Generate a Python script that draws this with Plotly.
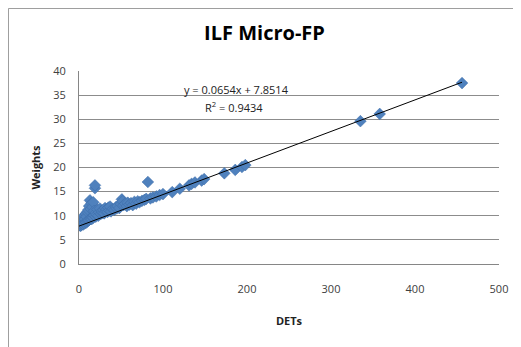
import plotly.graph_objects as go

# Estimated data (DETs vs Weights)
dets = [
    1, 2, 2, 3, 3, 4, 4, 5, 5, 6, 6, 7, 7, 8, 8, 9, 9, 10, 10, 11,
    11, 12, 12, 13, 13, 14, 14, 15, 15, 16, 16, 17, 17, 18, 18, 19, 19, 20, 20, 21,
    22, 23, 24, 25, 26, 27, 28, 29, 30, 31, 32, 33, 34, 35, 36, 37, 38, 40, 42, 44,
    45, 46, 48, 50, 51, 52, 53, 55, 57, 58, 60, 62, 64, 66, 68, 70, 72, 75, 78, 80,
    82, 85, 88, 92, 96, 100, 111, 120, 131, 134, 138, 146, 149, 173, 186, 194, 198,
    335, 358, 456,
]
weights = [
    8.0, 7.9, 8.4, 8.1, 8.8, 8.3, 9.2, 8.2, 9.6, 8.5, 10.0, 8.4, 9.3, 8.7, 10.4, 8.6, 9.8, 8.9, 10.8, 9.0,
    11.2, 9.1, 12.0, 9.4, 13.2, 9.5, 11.4, 9.3, 12.6, 9.7, 11.8, 9.6, 12.8, 10.1, 11.0, 15.7, 16.3, 9.8, 10.6, 10.2,
    11.3, 10.0, 10.7, 11.5, 10.4, 11.0, 10.6, 11.2, 10.5, 11.6, 10.9, 11.3, 10.8, 11.7, 11.1, 11.9, 10.9, 11.4, 11.2, 11.8,
    11.5, 12.0, 11.6, 12.4, 13.4, 13.0, 12.2, 12.5, 12.0, 12.7, 12.3, 12.6, 12.2, 12.9, 12.5, 13.0, 12.8, 13.1, 13.3, 13.5,
    17.0, 13.6, 13.8, 14.0, 14.3, 14.5, 14.9, 15.6, 16.3, 16.6, 16.9, 17.3, 17.6, 18.8, 19.5, 20.1, 20.5,
    29.6, 31.1, 37.5,
]

slope = 0.0654
intercept = 7.8514
r2 = 0.9434
trend_x = [0, 456]
trend_y = [slope * v + intercept for v in trend_x]

x_ticks = [0, 100, 200, 300, 400, 500]
y_ticks = [0, 5, 10, 15, 20, 25, 30, 35, 40]

fig = go.Figure()
fig.add_trace(go.Scatter(
    x=dets, y=weights, mode="markers",
    marker=dict(symbol="diamond", size=9, color="#4F81BD",
                line=dict(width=0.5, color="#3C6DA8")),
    showlegend=False, hoverinfo="skip",
))
fig.add_trace(go.Scatter(
    x=trend_x, y=trend_y, mode="lines",
    line=dict(color="#000000", width=1),
    showlegend=False, hoverinfo="skip",
))

# The page has an 8px body margin, so the figure is sized/offset to compensate.
fig.update_layout(
    width=513, height=339,
    margin=dict(l=71, r=22, t=63, b=83),
    paper_bgcolor="white", plot_bgcolor="white",
    font=dict(family="Open Sans, Liberation Sans, sans-serif", color="#404040", size=11),
    title=dict(text="<b>ILF Micro-FP</b>", x=0.5, xanchor="center", y=0.925, yanchor="middle",
               font=dict(size=20, color="#000000", family="Open Sans, sans-serif")),
    xaxis=dict(range=[0, 500], tickvals=x_ticks, showgrid=False, zeroline=False,
               showline=True, linecolor="#868686", linewidth=1, ticks="",
               ticklabelstandoff=15,
               tickfont=dict(size=11, color="#404040"),
               title=dict(text="<b>DETs</b>", font=dict(size=11, color="#222222"), standoff=22)),
    yaxis=dict(range=[0, 40], tickvals=y_ticks, showgrid=True, gridcolor="#8C8C8C", gridwidth=1,
               zeroline=False, showline=True, linecolor="#868686", linewidth=1, ticks="",
               ticklabelstandoff=10,
               tickfont=dict(size=11, color="#404040"),
               title=dict(text="<b>Weights</b>", font=dict(size=11, color="#222222"), standoff=10)),
    annotations=[
        dict(x=0.375, y=0.905, xref="paper", yref="paper", showarrow=False,
             text=f"y = {slope}x + {intercept}", font=dict(size=11, color="#222222"),
             xanchor="center", yanchor="middle"),
        dict(x=0.37, y=0.815, xref="paper", yref="paper", showarrow=False,
             text=f"R<sup>2</sup> = {r2}", font=dict(size=11, color="#222222"),
             xanchor="center", yanchor="middle"),
    ],
    shapes=[
        dict(type="rect", xref="paper", yref="paper",
             x0=-0.168, x1=1.05, y0=-0.46, y1=1.324,
             line=dict(color="#9A9A9A", width=1), fillcolor="rgba(0,0,0,0)", layer="below"),
    ],
)

fig.write_html("out.html")
